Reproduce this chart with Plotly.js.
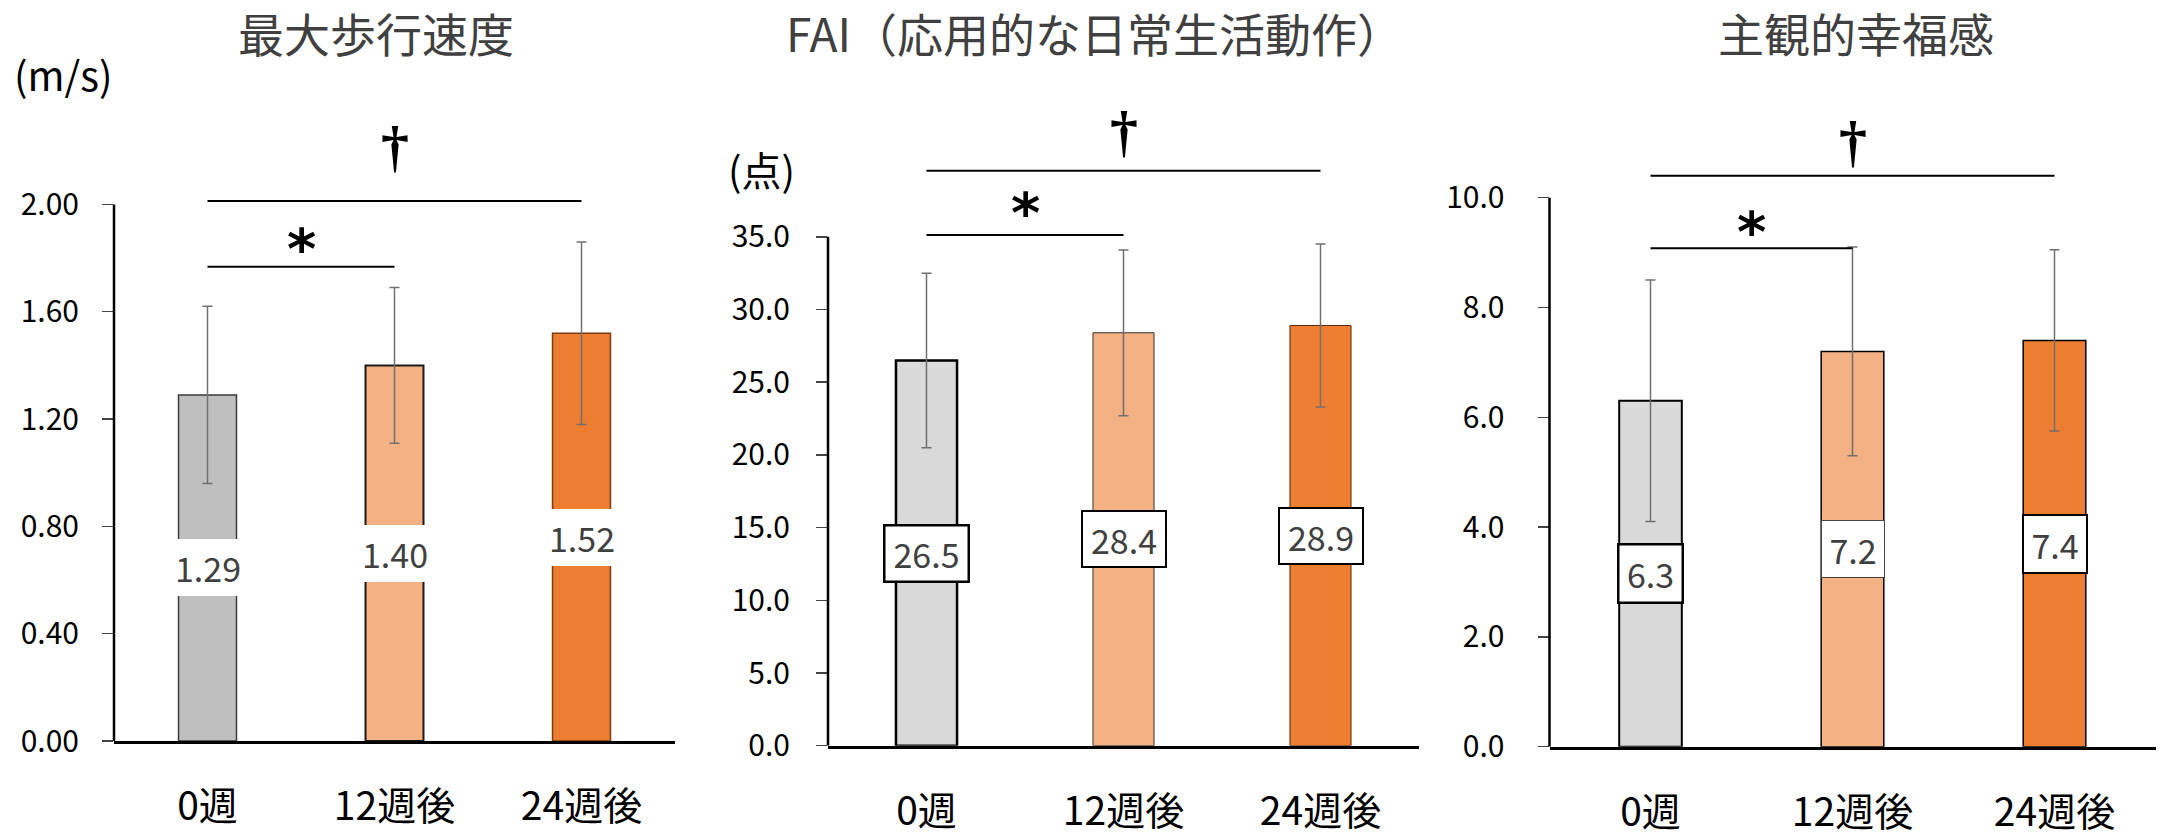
<!DOCTYPE html>
<html><head><meta charset="utf-8">
<script src="https://cdn.plot.ly/plotly-3.0.1.min.js"></script>
<style>html,body{margin:0;padding:0;background:#fff}</style>
</head><body><div id="chart" style="width:2169px;height:835px"></div>
<script>
// ---- data ----
const categories = ['0週', '12週後', '24週後'];
const speedMean = [1.29, 1.40, 1.52];
const speedSD = [0.33, 0.29, 0.34];
const faiMean = [26.5, 28.4, 28.9];
const faiSD = [6.0, 5.7, 5.6];
const wellMean = [6.3, 7.2, 7.4];
const wellSD = [2.2, 1.9, 1.65];
const panelTitles = ['最大歩行速度', 'FAI（応用的な日常生活動作）', '主観的幸福感'];
const unitLabels = ['(m/s)', '(点)', ''];
const speedTicks = [0, 0.4, 0.8, 1.2, 1.6, 2.0];
const faiTicks = [0, 5, 10, 15, 20, 25, 30, 35];
const wellTicks = [0, 2, 4, 6, 8, 10];
// significance: [from, to, symbol, line level, symbol level]
const speedSig = [[0, 1, '*', 1.768, 1.875], [0, 2, '†', 2.013, 2.19]];
const faiSig = [[0, 1, '*', 35.12, 37.4], [0, 2, '†', 39.55, 41.8]];
const wellSig = [[0, 1, '*', 9.08, 9.58], [0, 2, '†', 10.40, 10.9]];

// ---- styles ----
const FONT = 'Noto Sans CJK JP, Noto Sans, sans-serif';
const STARFONT = 'DejaVu Sans, sans-serif';
const DAGFONT = 'Liberation Serif, DejaVu Serif, serif';
const W = 2169, H = 835;
const panels = [
  {mean: speedMean, sd: speedSD, ticks: speedTicks, sig: speedSig, fmt: 2, ymax: 2.25,
   xd: [114, 675], yb: 741, ppu: 268.3,
   colors: ['#BFBFBF', '#F4B183', '#ED7D31'], lines: ['#3a3a3a', '#1a1a1a', '#7a3a10'], lw: [1.5, 2, 1.5],
   box: {w: 80, h: 57, bw: [0, 0, 0], bc: ['#fff', '#fff', '#fff']},
   title: 376, unit: [12, 74], standoff: 17},
  {mean: faiMean, sd: faiSD, ticks: faiTicks, sig: faiSig, fmt: 1, ymax: 43,
   xd: [828, 1419], yb: 745.7, ppu: 14.54,
   colors: ['#D9D9D9', '#F4B183', '#ED7D31'], lines: ['#000000', '#333333', '#5a2a0a'], lw: [2.5, 1, 1],
   box: {w: 82, h: 54, bw: [2.5, 2, 2], bc: ['#000', '#000', '#000']},
   title: 1094.5, unit: [726, 169], standoff: 20},
  {mean: wellMean, sd: wellSD, ticks: wellTicks, sig: wellSig, fmt: 1, ymax: 11.1,
   xd: [1549.5, 2155.5], yb: 746.7, ppu: 54.9,
   colors: ['#D9D9D9', '#F4B183', '#ED7D31'], lines: ['#000000', '#000000', '#000000'], lw: [2, 1.5, 1.5],
   box: {w: 62, h: 56, bw: [2.5, 1, 2], bc: ['#000', '#444', '#000']},
   title: 1855.5, unit: [0, 0], standoff: 27}
];

const data = [];
const layout = {
  width: W, height: H, margin: {l: 0, r: 0, t: 0, b: 0},
  paper_bgcolor: '#fff', plot_bgcolor: '#fff', showlegend: false,
  font: {family: FONT, color: '#000'},
  annotations: [], shapes: []
};

panels.forEach((p, i) => {
  const n = i + 1;
  const xa = 'x' + (n === 1 ? '' : n), ya = 'y' + (n === 1 ? '' : n);
  const xk = 'xaxis' + (n === 1 ? '' : n), yk = 'yaxis' + (n === 1 ? '' : n);
  const yt = p.yb - p.ymax * p.ppu;
  data.push({
    type: 'bar', x: categories, y: p.mean, xaxis: xa, yaxis: ya, width: 0.31,
    marker: {color: p.colors, line: {color: p.lines, width: p.lw}},
    error_y: {type: 'data', array: p.sd, visible: true, color: '#707070', thickness: 1.5, width: 5},
    hoverinfo: 'none'
  });
  layout[xk] = {
    domain: [p.xd[0] / W, p.xd[1] / W], anchor: ya, type: 'category', range: [-0.5, 2.5],
    showline: true, linecolor: '#000', linewidth: 3, ticks: '', showgrid: false, zeroline: false,
    tickfont: {family: FONT, size: 39, color: '#000'}, ticklabelstandoff: 29, fixedrange: true
  };
  layout[yk] = {
    domain: [(H - p.yb) / H, (H - yt) / H], anchor: xa, range: [0, p.ymax],
    showline: false, showgrid: false, zeroline: false,
    tickmode: 'array', tickvals: p.ticks, ticktext: p.ticks.map(v => v.toFixed(p.fmt)),
    ticks: 'outside', ticklen: 11, tickwidth: 1.5, tickcolor: '#444',
    tickfont: {family: FONT, size: 30, color: '#000'}, ticklabelstandoff: p.standoff, fixedrange: true
  };
  // y axis line up to the top tick
  layout.shapes.push({type: 'line', xref: xa + ' domain', yref: ya, x0: 0, x1: 0,
    y0: p.ticks[0], y1: p.ticks[p.ticks.length - 1], line: {color: '#000', width: 2.5}});
  // significance brackets
  p.sig.forEach(s => {
    layout.shapes.push({type: 'line', xref: xa, yref: ya, x0: s[0], x1: s[1], y0: s[3], y1: s[3],
      line: {color: '#000', width: 2}});
    const star = s[2] === '*';
    layout.annotations.push({xref: xa, yref: ya, x: (s[0] + s[1]) / 2, y: s[4], text: '<b>' + s[2] + '</b>',
      showarrow: false, xanchor: 'center', yanchor: 'middle', yshift: star ? -11 : 6,
      font: {family: star ? STARFONT : DAGFONT, size: star ? 56 : 56, color: '#000'}});
  });
  // value labels at bar centre
  p.mean.forEach((v, k) => {
    layout.annotations.push({xref: xa, yref: ya, x: categories[k], y: v / 2, text: v.toFixed(p.fmt),
      showarrow: false, xanchor: 'center', yanchor: 'middle', width: p.box.w, height: p.box.h,
      bgcolor: '#fff', bordercolor: p.box.bc[k], borderwidth: p.box.bw[k], borderpad: 0,
      font: {family: FONT, size: 34, color: '#404040'}});
  });
  // titles
  layout.annotations.push({xref: 'paper', yref: 'paper', x: p.title / W, y: 1, yshift: 3,
    text: panelTitles[i], showarrow: false, xanchor: 'center', yanchor: 'top',
    font: {family: FONT, size: 46, color: '#404040'}});
  if (unitLabels[i]) {
    layout.annotations.push({xref: 'paper', yref: 'paper', x: p.unit[0] / W, y: 1 - p.unit[1] / H,
      text: unitLabels[i], showarrow: false, xanchor: 'left', yanchor: 'middle',
      font: {family: FONT, size: 40, color: '#000'}});
  }
});

Plotly.newPlot('chart', data, layout, {staticPlot: true, displayModeBar: false});
</script></body></html>
